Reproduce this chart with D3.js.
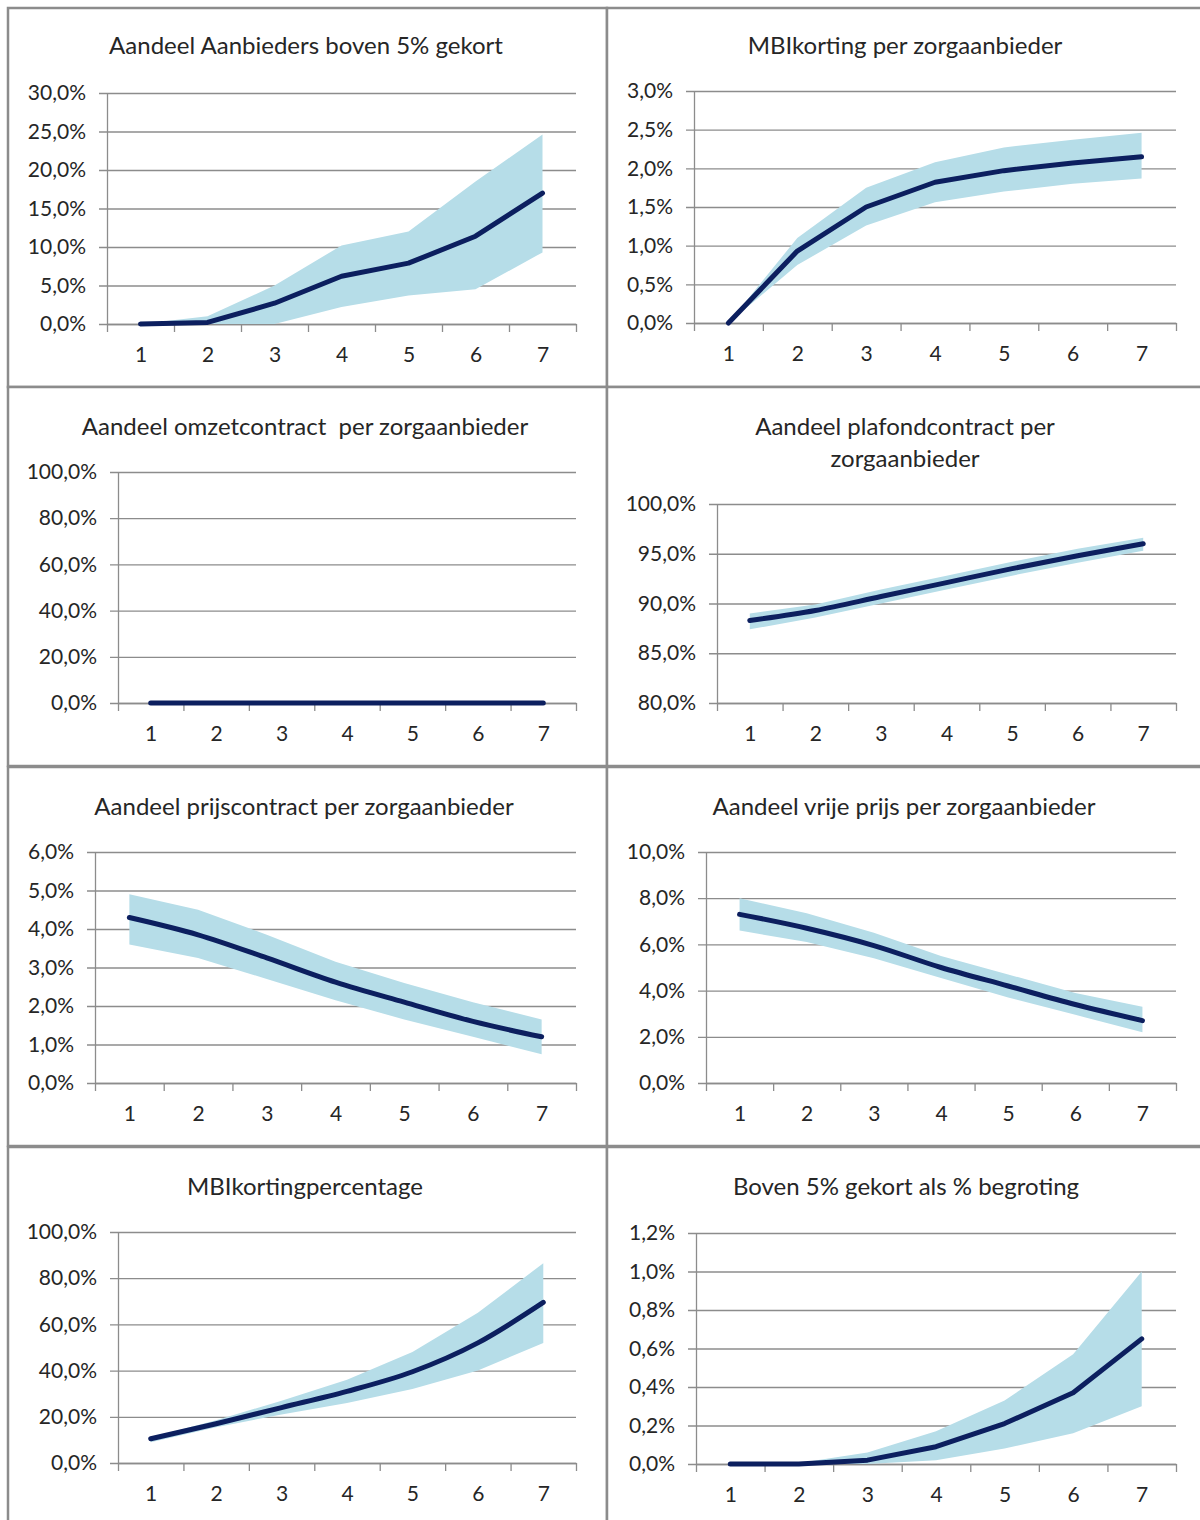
<!DOCTYPE html>
<html>
<head>
<meta charset="utf-8">
<script src="https://cdnjs.cloudflare.com/ajax/libs/d3/7.8.5/d3.min.js"></script>
<style>
  body { margin: 0; background: #fff; }
  text { font-family: Lato, "Open Sans", sans-serif; fill: #262626; white-space: pre; }
</style>
</head>
<body>
<div id="chart"></div>
<script>
// categories on the x axis (same for every panel)
let categories = [1, 2, 3, 4, 5, 6, 7];

// Aandeel Aanbieders boven 5% gekort
let aanbiedersMid  = [0, 0.2, 2.7, 6.2, 7.9, 11.4, 17.0];
let aanbiedersHigh = [0, 1.0, 5.0, 10.2, 12.0, 18.5, 24.6];
let aanbiedersLow  = [0, 0, 0, 2.2, 3.7, 4.5, 9.3];
let aanbiedersTicks = [0, 5, 10, 15, 20, 25, 30];

// MBIkorting per zorgaanbieder
let kortingMid  = [0, 0.93, 1.5, 1.82, 1.97, 2.07, 2.15];
let kortingHigh = [0, 1.1, 1.75, 2.08, 2.27, 2.37, 2.46];
let kortingLow  = [0, 0.75, 1.26, 1.56, 1.7, 1.8, 1.87];
let kortingTicks = [0, 0.5, 1, 1.5, 2, 2.5, 3];

// Aandeel omzetcontract per zorgaanbieder
let omzetMid  = [0, 0, 0, 0, 0, 0, 0];
let omzetHigh = [0, 0, 0, 0, 0, 0, 0];
let omzetLow  = [0, 0, 0, 0, 0, 0, 0];
let omzetTicks = [0, 20, 40, 60, 80, 100];

// Aandeel plafondcontract per zorgaanbieder
let plafondMid  = [88.3, 89.3, 90.7, 92.1, 93.5, 94.8, 96.0];
let plafondHigh = [89.0, 89.9, 91.4, 92.8, 94.2, 95.5, 96.6];
let plafondLow  = [87.4, 88.6, 90.0, 91.4, 92.8, 94.1, 95.3];
let plafondTicks = [80, 85, 90, 95, 100];

// Aandeel prijscontract per zorgaanbieder
let prijsMid  = [4.3, 3.85, 3.25, 2.62, 2.1, 1.6, 1.2];
let prijsHigh = [4.9, 4.5, 3.85, 3.15, 2.6, 2.1, 1.65];
let prijsLow  = [3.6, 3.25, 2.7, 2.15, 1.65, 1.2, 0.75];
let prijsTicks = [0, 1, 2, 3, 4, 5, 6];

// Aandeel vrije prijs per zorgaanbieder
let vrijMid  = [7.3, 6.7, 5.95, 5.0, 4.2, 3.4, 2.7];
let vrijHigh = [8.0, 7.35, 6.5, 5.5, 4.7, 3.9, 3.3];
let vrijLow  = [6.6, 6.1, 5.4, 4.55, 3.7, 2.95, 2.2];
let vrijTicks = [0, 2, 4, 6, 8, 10];

// MBIkortingpercentage
let percMid  = [10.5, 17, 24, 31, 39.5, 52, 69.5];
let percHigh = [11, 18.5, 27, 36, 48, 65, 86.5];
let percLow  = [9, 15.5, 21, 26, 32, 40, 52];
let percTicks = [0, 20, 40, 60, 80, 100];

// Boven 5% gekort als % begroting
let begrotingMid  = [0, 0, 0.02, 0.09, 0.21, 0.37, 0.65];
let begrotingHigh = [0, 0.005, 0.06, 0.17, 0.33, 0.57, 1.0];
let begrotingLow  = [0, 0, 0, 0.02, 0.08, 0.16, 0.30];
let begrotingTicks = [0, 0.2, 0.4, 0.6, 0.8, 1, 1.2];

let bandColor = "#b6dde8",
    lineColor = "#0c1f5f",
    gridColor = "#8c8c8c";

let svg = d3.select("#chart")
    .append("svg")
        .attr("width", 1200)
        .attr("height", 1520);

// one entry per panel: data + where it sits on the page
let panels = [
    {title: ["Aandeel Aanbieders boven 5% gekort"], mid: aanbiedersMid, high: aanbiedersHigh, low: aanbiedersLow, ticks: aanbiedersTicks,
     box: [8, 8], left: 107, right: 576, top: 93, bottom: 324, titleX: 306, titleY: 44, smooth: false},
    {title: ["MBIkorting per zorgaanbieder"], mid: kortingMid, high: kortingHigh, low: kortingLow, ticks: kortingTicks,
     box: [607, 8], left: 694, right: 1176, top: 91, bottom: 323, titleX: 905, titleY: 44, smooth: false},
    {title: ["Aandeel omzetcontract  per zorgaanbieder"], mid: omzetMid, high: omzetHigh, low: omzetLow, ticks: omzetTicks,
     box: [8, 387], left: 118, right: 576, top: 472, bottom: 703, titleX: 305, titleY: 425, smooth: false},
    {title: ["Aandeel plafondcontract per", "zorgaanbieder"], mid: plafondMid, high: plafondHigh, low: plafondLow, ticks: plafondTicks,
     box: [607, 387], left: 717, right: 1176, top: 504, bottom: 703, titleX: 905, titleY: 425, smooth: true},
    {title: ["Aandeel prijscontract per zorgaanbieder"], mid: prijsMid, high: prijsHigh, low: prijsLow, ticks: prijsTicks,
     box: [8, 767], left: 95, right: 576, top: 852, bottom: 1083, titleX: 304, titleY: 805, smooth: true},
    {title: ["Aandeel vrije prijs per zorgaanbieder"], mid: vrijMid, high: vrijHigh, low: vrijLow, ticks: vrijTicks,
     box: [607, 767], left: 706, right: 1176, top: 852, bottom: 1083, titleX: 904, titleY: 805, smooth: true},
    {title: ["MBIkortingpercentage"], mid: percMid, high: percHigh, low: percLow, ticks: percTicks,
     box: [8, 1147], left: 118, right: 576, top: 1232, bottom: 1463, titleX: 305, titleY: 1185, smooth: true},
    {title: ["Boven 5% gekort als % begroting"], mid: begrotingMid, high: begrotingHigh, low: begrotingLow, ticks: begrotingTicks,
     box: [607, 1147], left: 696, right: 1176, top: 1233, bottom: 1464, titleX: 906, titleY: 1185, smooth: false}
];

let nl = d3.formatLocale({decimal: ",", thousands: ".", grouping: [3], currency: ["€", ""]});
let pct = nl.format(".1f");

panels.forEach(function(p) {
    let g = svg.append("g");

    // panel frame
    g.append("rect")
        .attr("x", p.box[0])
        .attr("y", p.box[1])
        .attr("width", 599)
        .attr("height", 379)
        .attr("fill", "#fff")
        .attr("stroke", gridColor)
        .attr("stroke-width", 2.5);

    // title
    g.append("text")
        .attr("x", p.titleX)
        .attr("y", p.titleY)
        .attr("text-anchor", "middle")
        .attr("dominant-baseline", "central")
        .style("font-size", "24px")
        .selectAll("tspan")
        .data(p.title)
        .enter()
        .append("tspan")
            .attr("x", p.titleX)
            .attr("dy", function (d, i) { return i === 0 ? 0 : 32; })
            .text(function (d) { return d; });

    let x = d3.scaleLinear()
        .domain([0.5, 7.5])
        .range([p.left, p.right]);

    let y = d3.scaleLinear()
        .domain(d3.extent(p.ticks))
        .range([p.bottom, p.top]);

    // gridlines (they also stick out left as tick marks)
    g.append("g")
        .attr("transform", "translate(" + p.right + ",0)")
        .call(d3.axisLeft(y).tickValues(p.ticks).tickSize(p.right - p.left + 8).tickFormat(""))
        .call(function (s) { s.select(".domain").remove(); })
        .selectAll("line")
            .attr("stroke", gridColor)
            .attr("stroke-width", 1.3);

    // Y axis with labels
    let yAxis = g.append("g")
        .attr("transform", "translate(" + p.left + ",0)")
        .call(d3.axisLeft(y).tickValues(p.ticks).tickSize(0).tickPadding(21)
            .tickFormat(function (d) { return pct(d) + "%"; }));
    yAxis.select(".domain").attr("stroke", gridColor).attr("stroke-width", 1.3);
    yAxis.selectAll("text").style("font-size", "21px").attr("font-family", null);

    // X axis: tick marks between categories
    g.append("g")
        .attr("transform", "translate(0," + p.bottom + ")")
        .call(d3.axisBottom(x).tickValues(d3.range(0.5, 8, 1)).tickSize(8).tickSizeOuter(0).tickFormat(""))
        .call(function (s) {
            s.select(".domain").attr("stroke", gridColor).attr("stroke-width", 1.3);
            s.selectAll("line").attr("stroke", gridColor).attr("stroke-width", 1.3);
        });

    // X labels
    let xLabels = g.append("g")
        .attr("transform", "translate(0," + p.bottom + ")")
        .call(d3.axisBottom(x).tickValues(categories).tickSize(0).tickPadding(23).tickFormat(d3.format("d")));
    xLabels.select(".domain").remove();
    xLabels.selectAll("text").style("font-size", "21px").attr("font-family", null);

    // band
    let band = d3.area()
        .x(function (d, i) { return x(categories[i]); })
        .y0(function (d, i) { return y(p.low[i]); })
        .y1(function (d, i) { return y(p.high[i]); });

    g.append("path")
        .datum(p.mid)
        .attr("d", band)
        .attr("fill", bandColor);

    // mean line
    let line = d3.line()
        .x(function (d, i) { return x(categories[i]); })
        .y(function (d) { return y(d); })
        .curve(p.smooth ? d3.curveMonotoneX : d3.curveLinear);

    g.append("path")
        .datum(p.mid)
        .attr("d", line)
        .attr("fill", "none")
        .attr("stroke", lineColor)
        .attr("stroke-width", 5)
        .attr("stroke-linecap", "round")
        .attr("stroke-linejoin", "round");
});
</script>
</body>
</html>
